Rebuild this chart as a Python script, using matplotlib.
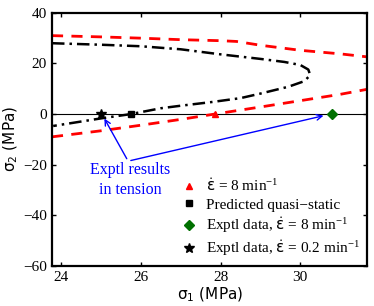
import numpy as np
import matplotlib
matplotlib.use("Agg")
import matplotlib.pyplot as plt

plt.rcParams['font.family'] = ['Liberation Serif', 'DejaVu Sans']
plt.rcParams['mathtext.fontset'] = 'custom'
plt.rcParams['mathtext.rm'] = 'Liberation Serif'
plt.rcParams['mathtext.it'] = 'Liberation Serif:italic'
plt.rcParams['mathtext.sf'] = 'DejaVu Sans'

# predicted yield envelope (red dashed), upper and lower branch
up_x = [23.77, 25.0, 26.0, 27.0, 28.0, 28.4, 29.0, 30.0, 31.0, 31.68]
up_y = [31.0, 30.5, 30.0, 29.4, 29.0, 28.7, 27.2, 25.2, 23.8, 22.6]
lo_x = [23.77, 25.0, 26.0, 27.0, 27.85, 29.0, 30.0, 31.0, 31.68]
lo_y = [-9.0, -6.6, -4.4, -2.1, 0.0, 2.8, 5.3, 7.8, 9.8]

# quasi-static prediction (black dash-dot)
qs_x = [23.77, 25.0, 26.0, 27.0, 28.0, 29.0, 29.6, 30.0, 30.2, 30.25, 30.1, 29.7, 29.0, 28.5, 27.8, 27.0, 26.5, 25.75, 25.0, 24.4, 23.8]
qs_y = [28.0, 27.4, 26.8, 25.6, 23.6, 21.8, 20.6, 19.4, 17.6, 15.4, 13.0, 10.8, 8.1, 6.3, 4.8, 3.3, 2.3, 0.0, -1.7, -3.2, -4.7]

# single points
eps = r'$\dot{\mathsf{ε}}$'
pt_labels = [eps + r' = 8 min$\mathrm{^{-1}}$',
             'Predicted quasi\u2212static',
             'Exptl data, ' + eps + r' = 8 min$\mathrm{^{-1}}$',
             'Exptl data, ' + eps + r' = 0.2 min$\mathrm{^{-1}}$']
pt_x = [27.85, 25.75, 30.8, 25.0]
pt_y = [0, 0, 0, 0]

fig = plt.figure(figsize=(3.74, 3.06), dpi=100)
ax = fig.add_axes([0.139, 0.131, 0.843, 0.827])

ax.axhline(0, color='k', lw=0.8)
ax.plot(up_x, up_y, '--', color='red', lw=2, dashes=(4, 3))
ax.plot(lo_x, lo_y, '--', color='red', lw=2, dashes=(4, 3))
ax.plot(qs_x, qs_y, '-.', color='k', lw=1.8, dashes=(5, 2, 1, 2))

ax.plot(pt_x[0], pt_y[0], '^', color='red', ms=5, label=pt_labels[0], ls='none')
ax.plot(pt_x[1], pt_y[1], 's', color='k', ms=4, label=pt_labels[1], ls='none')
ax.plot(pt_x[2], pt_y[2], 'D', color='#007000', ms=5.5, label=pt_labels[2], ls='none')
ax.plot(pt_x[3], pt_y[3], '*', color='k', ms=7, label=pt_labels[3], ls='none')

ax.annotate('', xy=(25.05, -0.8), xytext=(25.68, -18.6),
            arrowprops=dict(arrowstyle='->', color='blue', lw=1))
ax.annotate('', xy=(30.65, -0.4), xytext=(25.68, -18.6),
            arrowprops=dict(arrowstyle='->', color='blue', lw=1))
ax.text(25.73, -26, 'Exptl results\nin tension', color='blue', fontsize=11.5,
        ha='center', va='center', linespacing=1.3)

ax.set_xlim(23.77, 31.68)
ax.set_ylim(-60, 40)
ax.set_xticks([24, 26, 28, 30])
ax.set_yticks([-60, -40, -20, 0, 20, 40])
ax.tick_params(direction='in', top=True, right=True, labelsize=11, width=1, length=3)
for s in ax.spines.values():
    s.set_linewidth(1.6)

ax.set_xlabel(r'$\mathsf{σ_1}$ (MPa)', family='DejaVu Sans', fontsize=11, labelpad=1)
ax.set_ylabel(r'$\mathsf{σ_2}$ (MPa)', family='DejaVu Sans', fontsize=11, labelpad=2)

ax.legend(loc='lower right', frameon=False, fontsize=11, handlelength=1,
          handletextpad=0.6, labelspacing=0.25, borderaxespad=0.1, numpoints=1,
          bbox_to_anchor=(1.0, 0.0))

fig.savefig('out.png', dpi=100)
